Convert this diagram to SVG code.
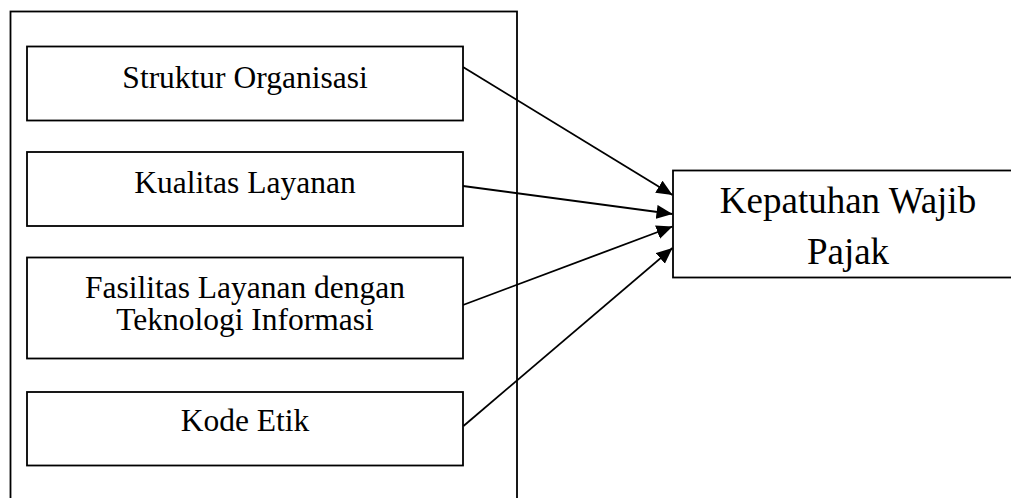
<svg xmlns="http://www.w3.org/2000/svg" width="1011" height="498" viewBox="0 0 1011 498">
  <style>
    .box { fill: #ffffff; stroke: #000000; stroke-width: 1.8; }
    .frame { fill: none; stroke: #000000; stroke-width: 1.8; }
    .lbl { font-family: "Liberation Serif", "Times New Roman", serif; font-size: 31.5px; fill: #000000; text-anchor: middle; }
    .big { font-family: "Liberation Serif", "Times New Roman", serif; font-size: 37px; fill: #000000; text-anchor: middle; }
    .conn { fill: none; stroke: #000000; stroke-width: 1.8; }
  </style>
  <defs>
    <marker id="arrow" markerUnits="userSpaceOnUse" markerWidth="17" markerHeight="15" refX="16" refY="7" orient="auto">
      <path d="M0,0 L16,7 L0,14 Z" fill="#000000"/>
    </marker>
  </defs>
  <rect width="1011" height="498" fill="#ffffff"/>
  <g id="frame">
    <rect class="frame" x="10.5" y="11.5" width="506.5" height="510"/>
  </g>
  <g id="connectors">
    <line class="conn" x1="463" y1="67" x2="672.5" y2="195" marker-end="url(#arrow)"/>
    <line class="conn" x1="463" y1="186" x2="672.5" y2="214" marker-end="url(#arrow)"/>
    <line class="conn" x1="463" y1="305" x2="672.5" y2="226.5" marker-end="url(#arrow)"/>
    <line class="conn" x1="463.5" y1="426" x2="672.5" y2="248" marker-end="url(#arrow)"/>
  </g>
  <g id="node-struktur">
    <rect class="box" x="27" y="46.5" width="436" height="74"/>
    <text class="lbl" x="245" y="87.5">Struktur Organisasi</text>
  </g>
  <g id="node-kualitas">
    <rect class="box" x="27" y="152" width="436" height="74"/>
    <text class="lbl" x="245" y="192.5">Kualitas Layanan</text>
  </g>
  <g id="node-fasilitas">
    <rect class="box" x="27" y="257.5" width="436" height="101"/>
    <text class="lbl" x="245" y="297.5">Fasilitas Layanan dengan</text>
    <text class="lbl" x="245" y="329.5">Teknologi Informasi</text>
  </g>
  <g id="node-kode">
    <rect class="box" x="27" y="392" width="436" height="73.5"/>
    <text class="lbl" x="245" y="431">Kode Etik</text>
  </g>
  <g id="node-kepatuhan">
    <rect class="box" x="673" y="170.5" width="400" height="107"/>
    <text class="big" x="848" y="212.5">Kepatuhan Wajib</text>
    <text class="big" x="848" y="263.5">Pajak</text>
  </g>
</svg>
